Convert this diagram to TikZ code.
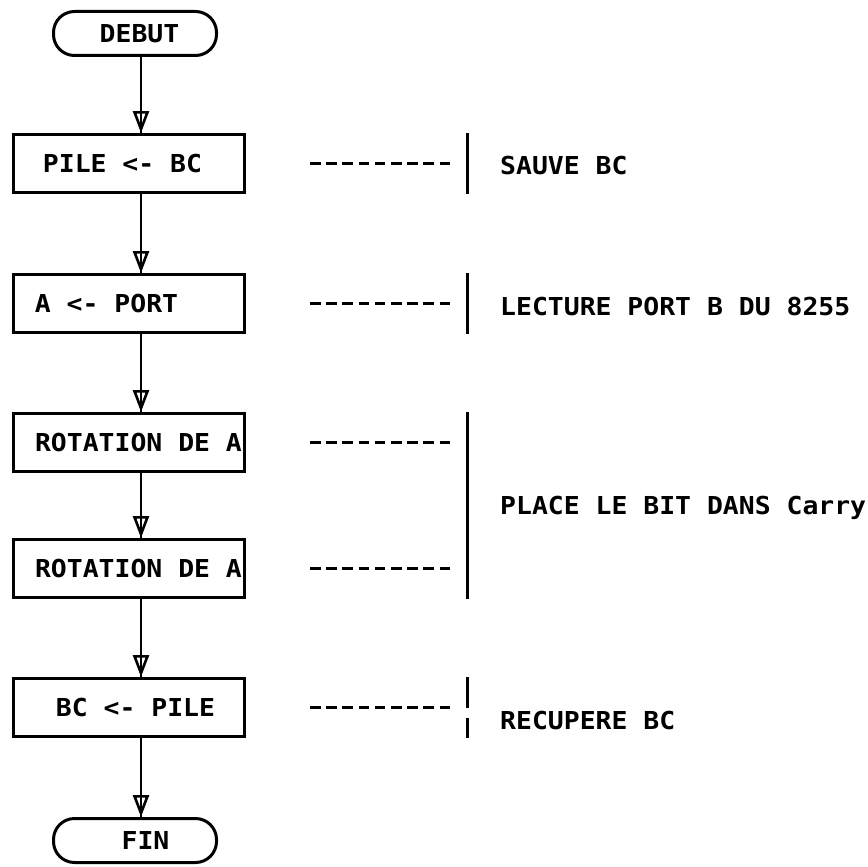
\documentclass[tikz,border=0pt]{standalone}
\usepackage{fontspec}
\newfontfamily\plotfont[FakeStretch=1.07]{DejaVu Sans Mono}
\usetikzlibrary{arrows.meta,positioning,calc}

\begin{document}
\begin{tikzpicture}[
    x=1pt, y=1pt,
    node distance=78pt,
    every node/.style={font=\plotfont\bfseries\fontsize{24.7pt}{26pt}\selectfont},
    term/.style={draw, line width=3pt, rounded corners=21pt, minimum width=163pt,
                 minimum height=44pt, inner sep=0pt},
    box/.style={draw, line width=3pt, minimum width=231pt, minimum height=58pt,
                inner xsep=1pt},
    flow/.style={line width=2.6pt, -{Triangle[open, length=22pt, width=16pt]},
                 postaction={draw, arrows=-}},
    note/.style={line width=3pt, dash pattern=on 10.5pt off 5.7pt},
    bar/.style={line width=3pt},
    comment/.style={anchor=west, inner sep=0pt, text height=18pt, text depth=0pt}
  ]
    \useasboundingbox (0,0) rectangle (867,-867);
    \coordinate (spine) at (141,0);
    \coordinate (dl) at (310,0);
    \coordinate (dr) at (450,0);
    \coordinate (bx) at (467,0);
    \coordinate (tx) at (500,0);

    % flowchart
    \node[term] (debut) at (135,-33.5) {\hspace*{9pt}DEBUT};
    \node[box, below=76pt of debut, xshift=-6pt] (pile) {PILE <- BC\hspace*{13pt}};
    \node[box, below=79pt of pile] (port) {A <- PORT\hspace*{45pt}};
    \node[box, below=of port] (rot1) {\hspace*{19pt}ROTATION DE A};
    \node[box, below=65pt of rot1] (rot2) {\hspace*{19pt}ROTATION DE A};
    \node[box, below=of rot2] (bc) {\hspace*{13pt}BC <- PILE};
    \node[term, below=79pt of bc, xshift=6pt] (fin) {\hspace*{21pt}FIN};

    \draw[flow] (debut.south -| spine) -- (pile.north -| spine);
    \draw[flow] (pile.south -| spine) -- (port.north -| spine);
    \draw[flow] (port.south -| spine) -- (rot1.north -| spine);
    \draw[flow] (rot1.south -| spine) -- (rot2.north -| spine);
    \draw[flow] (rot2.south -| spine) -- (bc.north -| spine);
    \draw[flow] (bc.south -| spine) -- (fin.north -| spine);

    % comments
    \draw[note] (pile.east -| dl) -- (pile.east -| dr);
    \draw[bar] (pile.north -| bx) -- (pile.south -| bx);
    \node[comment, yshift=-2pt] (sauve) at (pile.east -| tx) {SAUVE BC};

    \draw[note] (port.east -| dl) -- (port.east -| dr);
    \draw[bar] (port.north -| bx) -- (port.south -| bx);
    \node[comment, yshift=-3pt] (lecture) at (port.east -| tx) {LECTURE PORT B DU 8255};

    \draw[note] (rot1.east -| dl) -- (rot1.east -| dr);
    \draw[note] (rot2.east -| dl) -- (rot2.east -| dr);
    \draw[bar] (rot1.north -| bx) -- (rot2.south -| bx);
    \node[comment] (place) at ($(rot1.east -| tx)!0.5!(rot2.east -| tx)$)
      {PLACE LE BIT DANS Carry};

    \draw[note] (bc.east -| dl) -- (bc.east -| dr);
    \draw[bar] (bc.north -| bx) -- (bc.east -| bx);
    \draw[bar] ($(bc.east -| bx)+(0,-10)$) -- (bc.south -| bx);
    \node[comment, yshift=-13pt] (recup) at (bc.east -| tx) {RECUPERE BC};
\end{tikzpicture}
\end{document}
